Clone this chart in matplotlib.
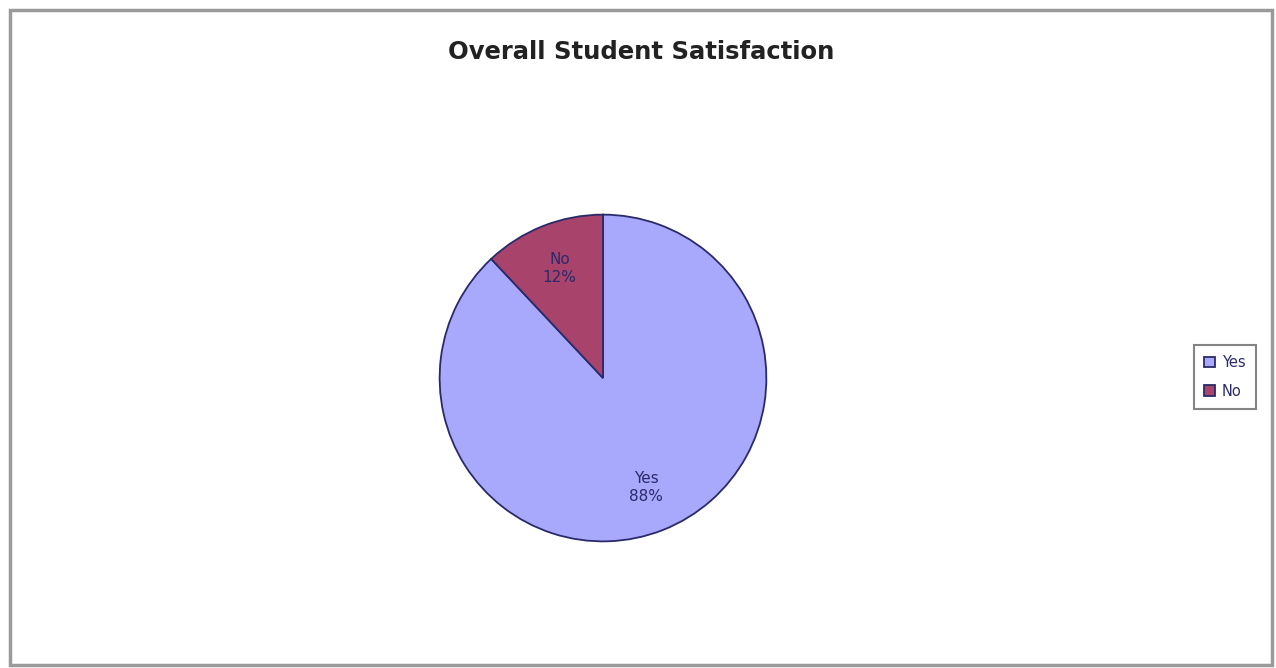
import matplotlib.pyplot as plt
from matplotlib.patches import Rectangle

# data
labels = ['Yes', 'No']
values = [88, 12]
colors = ['#a8a8fc', '#a8436c']

W, H = 1276, 668
fig = plt.figure(figsize=(W / 100, H / 100), dpi=100)
fig.patch.set_facecolor('white')

# outer chart frame
fig.add_artist(Rectangle((10 / W, 3 / H), 1262 / W, 655 / H, transform=fig.transFigure,
                         fill=False, edgecolor='#9a9a9a', linewidth=2.5))

fig.text(641 / W, 1 - 52 / H, 'Overall Student Satisfaction', ha='center', va='center',
         fontsize=17.5, fontweight='heavy', color='#222222')

# pie axes: centre (603, 378), radius 165 px
cx, cy, r = 603, 378, 165
ax = fig.add_axes([(cx - r) / W, (H - cy - r) / H, 2 * r / W, 2 * r / H])
wedges, texts = ax.pie(values, colors=colors, startangle=90, counterclock=False,
                       labels=[f'{l}\n{v}%' for l, v in zip(labels, values)],
                       labeldistance=0.72,
                       wedgeprops=dict(edgecolor='#2a2a6a', linewidth=1.3),
                       textprops=dict(fontsize=11, color='#2a2a6a', ha='center',
                                      va='center', linespacing=1.2))
for t in texts:
    t.set_ha('center')
ax.set_xlim(-1.01, 1.01)
ax.set_ylim(-1.01, 1.01)
ax.set_aspect('equal')
ax.axis('off')

leg = fig.legend(wedges, labels, loc='center', bbox_to_anchor=(1225 / W, 1 - 377 / H),
                 frameon=True, fancybox=False, edgecolor='#666666', fontsize=10.5,
                 handlelength=0.7, handleheight=0.7, handletextpad=0.5,
                 borderpad=0.7, labelspacing=0.9, labelcolor='#2a2a6a')
leg.get_frame().set_linewidth(1.5)

fig.savefig('out.png', dpi=100)
